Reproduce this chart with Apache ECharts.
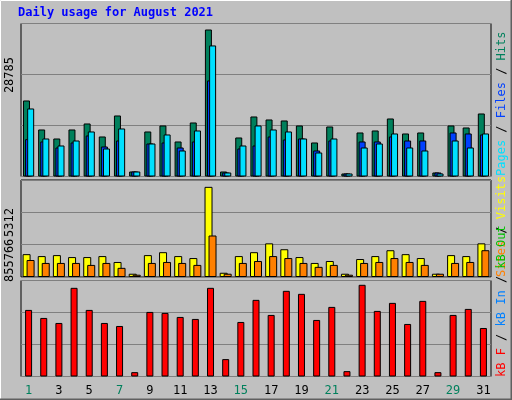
<!DOCTYPE html>
<html><head><meta charset="utf-8">
<script src="https://cdn.jsdelivr.net/npm/echarts@6/dist/echarts.min.js"></script>
<style>html,body{margin:0;padding:0;background:#c0c0c0}#c{width:512px;height:400px}</style>
</head><body><div id="c"></div>
<script>
const days = ['1','2','3','4','5','6','7','8','9','10','11','12','13','14','15','16','17','18','19','20','21','22','23','24','25','26','27','28','29','30','31'];
const weekendDays = ['1','7','8','14','15','21','22','28','29'];
const hits = [14888,9207,7444,9207,10383,7836,11950,980,8815,9991,6857,10579,28785,980,7640,11754,11166,10970,9991,6661,9795,588,8620,9011,11362,8424,8620,784,9991,9599,12342];
const files = [7314,6857,5681,6661,8032,5877,7052,980,6465,6661,5681,6857,18806,784,5485,6073,7836,7248,7444,5093,7052,588,6857,6857,7836,7052,7052,784,8620,8424,8228];
const pages = [13321,7444,6073,7052,8815,5485,9403,980,6465,8228,5093,9011,25663,784,6073,9991,9207,8815,7444,4702,7444,588,5681,6465,8424,5681,5093,588,7052,5681,8424];
const visits = [1347,1232,1290,1174,1174,1232,885,193,1290,1463,1232,1116,5312,250,1232,1463,1983,1636,1174,828,943,193,1059,1232,1578,1347,1116,193,1290,1232,1983];
const sites = [1001,828,828,828,712,828,539,135,828,886,828,712,2445,193,828,943,1232,1117,828,597,712,135,828,886,1117,886,712,193,828,886,1579];
const kbytes = [621500,546500,499700,827600,621500,499700,471600,40600,602700,593400,555900,537200,827600,162400,509000,715200,574600,799500,771400,527800,649600,50000,855766,612100,687100,490300,705800,40600,574600,630800,452800];
const maxLabels = ['28785','5312','855766'];

const grids = [
  {left:21,width:470,top:23.5,height:153},
  {left:21,width:470,top:180,height:97},
  {left:21,width:470,top:280.5,height:96}
];
const axMax = [29960, 5716, 896000];
const mono = 'DejaVu Sans Mono';
function xa(i){return {type:'category',gridIndex:i,data:days,axisTick:{show:false},axisLine:{show:false},
  axisLabel:{show:i===2,margin:8,fontFamily:mono,fontSize:12,
    color:(v)=>weekendDays.includes(v)?'#00805c':'#000'}};}
function ya(i){return {type:'value',gridIndex:i,min:0,max:axMax[i],interval:axMax[i]/3,
  axisLabel:{show:false},axisTick:{show:false},axisLine:{show:false},splitLine:{lineStyle:{color:'#808080',width:1}}};}
function bar(name,data,color,g,w,gap){return {type:'bar',name,data,xAxisIndex:g,yAxisIndex:g,barWidth:w,barGap:gap,
  itemStyle:{color,borderColor:'#000',borderWidth:1},animation:false,silent:true};}
const opt = {
  backgroundColor:'#c0c0c0',animation:false,
  grid: grids.map(g=>Object.assign({show:true,borderColor:'#000',borderWidth:1,backgroundColor:'#c0c0c0'},g)),
  xAxis:[xa(0),xa(1),xa(2)],
  yAxis:[ya(0),ya(1),ya(2)],
  series:[
    bar('Hits',hits,'#00805c',0,7,'-70%'),
    bar('Files',files,'#0040ff',0,7,'-70%'),
    bar('Pages',pages,'#00e0ff',0,7,'-70%'),
    bar('Visits',visits,'#ffff00',1,8,'-50%'),
    bar('Sites',sites,'#ff8000',1,8,'-50%'),
    bar('KBytes',kbytes,'#ff0000',2,7,'0%')
  ],
  graphic:[
    {type:'rect',shape:{x:0.5,y:0.5,width:511,height:399},style:{fill:'none',stroke:'#ffffff',lineWidth:1},z:-1},
    {type:'polyline',shape:{points:[[511.5,0],[511.5,399.5],[0,399.5]]},style:{stroke:'#606060',lineWidth:2,fill:'none'}},
    {type:'text',left:18,top:7,style:{text:'Daily usage for August 2021',font:'bold 12px "DejaVu Sans Mono"',fill:'#0000ff'}},
    {type:'text',x:10,y:57,rotation:Math.PI/2,style:{text:maxLabels[0],font:'12px "DejaVu Sans Mono"',fill:'#000',align:'right',verticalAlign:'middle'}},
    {type:'text',x:10,y:208,rotation:Math.PI/2,style:{text:maxLabels[1],font:'12px "DejaVu Sans Mono"',fill:'#000',align:'right',verticalAlign:'middle'}},
    {type:'text',x:10,y:282,rotation:Math.PI/2,style:{text:maxLabels[2],font:'12px "DejaVu Sans Mono"',fill:'#000',align:'left',verticalAlign:'middle'},rotation:Math.PI/2,origin:[0,0]},
    {type:'text',x:502,y:176,rotation:Math.PI/2,style:{text:'{p|Pages} {s|/} {f|Files} {s|/} {h|Hits}',font:'12px "DejaVu Sans Mono"',align:'left',verticalAlign:'middle',
      rich:{p:{fill:'#00e0ff',font:'12px "DejaVu Sans Mono"'},f:{fill:'#0040ff',font:'12px "DejaVu Sans Mono"'},h:{fill:'#00805c',font:'12px "DejaVu Sans Mono"'},s:{fill:'#000',font:'12px "DejaVu Sans Mono"'}}}},
    {type:'text',x:502,y:277,rotation:Math.PI/2,style:{text:'{s2|Sites} {s|/} {v|Visits}',font:'12px "DejaVu Sans Mono"',align:'left',verticalAlign:'middle',
      rich:{s2:{fill:'#ff8000',font:'12px "DejaVu Sans Mono"'},v:{fill:'#ffff00',font:'12px "DejaVu Sans Mono"'},s:{fill:'#000',font:'12px "DejaVu Sans Mono"'}}}},
    {type:'text',x:502,y:377,rotation:Math.PI/2,style:{text:'{r|kB F} {s|/} {b|kB In} {s|/} {g|kB Out}',font:'12px "DejaVu Sans Mono"',align:'left',verticalAlign:'middle',
      rich:{r:{fill:'#ff0000',font:'12px "DejaVu Sans Mono"'},b:{fill:'#0080ff',font:'12px "DejaVu Sans Mono"'},g:{fill:'#00c000',font:'12px "DejaVu Sans Mono"'},s:{fill:'#000',font:'12px "DejaVu Sans Mono"'}}}}
  ]
};
echarts.init(document.getElementById('c')).setOption(opt);
</script></body></html>
